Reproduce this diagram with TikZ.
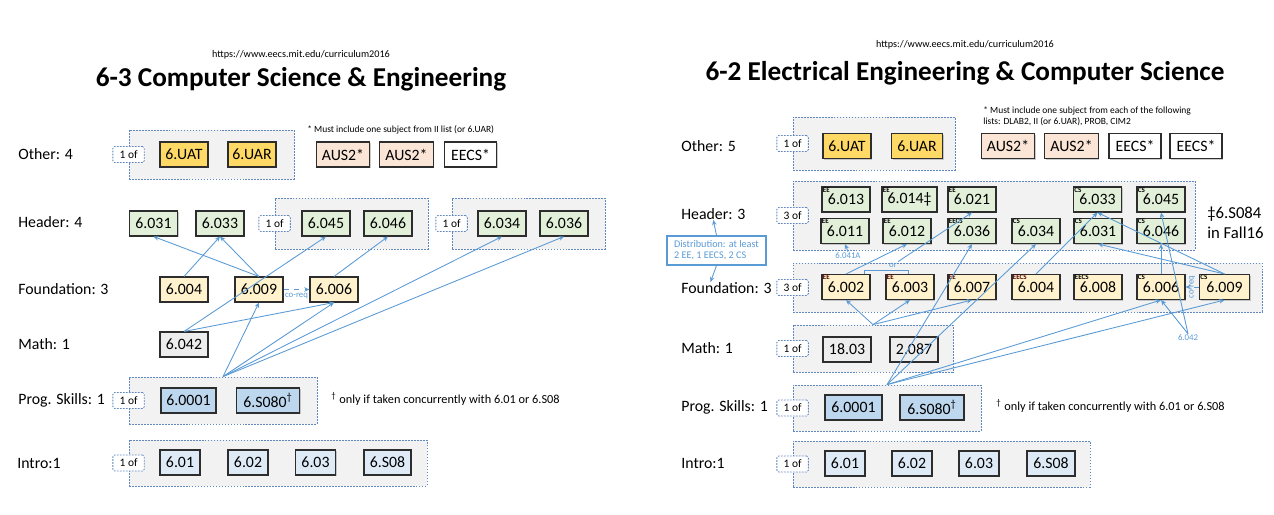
\documentclass[tikz,border=0pt]{standalone}
\usepackage{fontspec}
\setmainfont{Carlito}
\usetikzlibrary{arrows.meta,positioning,fit,calc,shadows}
\definecolor{grpline}{RGB}{96,136,190}
\definecolor{grpfill}{RGB}{242,242,242}
\definecolor{arrblue}{RGB}{91,155,213}
\definecolor{boxline}{RGB}{45,45,45}
\definecolor{uatgold}{RGB}{255,217,102}
\definecolor{auspink}{RGB}{251,229,214}
\definecolor{hdrgreen}{RGB}{226,240,217}
\definecolor{fndyellow}{RGB}{255,242,204}
\definecolor{mathgray}{RGB}{237,237,237}
\definecolor{progblue}{RGB}{189,215,238}
\definecolor{introblue}{RGB}{222,235,247}
\definecolor{tagred}{RGB}{80,0,0}

\begin{document}
\begin{tikzpicture}[
    x=0.02cm, y=-0.02cm,
    course/.style={
        rectangle,
        draw=boxline,
        line width=0.6pt,
        minimum height=0.5cm,
        minimum width=0.96cm,
        inner sep=1pt,
        font=\fontsize{9}{10}\selectfont,
        drop shadow={shadow xshift=0.7pt, shadow yshift=-0.7pt, fill=black!40, opacity=0.5}
    },
    uat/.style={course, fill=uatgold},
    aus/.style={course, fill=auspink, minimum width=1.07cm},
    eecs/.style={course, fill=white, minimum width=1.04cm},
    hdr/.style={course, fill=hdrgreen},
    fnd/.style={course, fill=fndyellow},
    mth/.style={course, fill=mathgray},
    prg/.style={course, fill=progblue},
    intro/.style={course, fill=introblue, minimum width=0.8cm},
    grp/.style={
        rectangle,
        draw=grpline,
        fill=grpfill,
        line width=0.45pt,
        dash pattern=on 1pt off 0.7pt,
        inner sep=0pt
    },
    oftag/.style={
        rectangle,
        rounded corners=1pt,
        draw=grpline,
        fill=white,
        line width=0.45pt,
        dash pattern=on 1pt off 0.7pt,
        minimum width=0.63cm,
        minimum height=0.32cm,
        inner sep=0.5pt,
        font=\fontsize{6.5}{7}\selectfont
    },
    rowlbl/.style={anchor=west, inner sep=0pt, font=\fontsize{9}{10}\selectfont},
    ttl/.style={font=\fontsize{15.5}{17}\selectfont\bfseries},
    url/.style={font=\fontsize{5.8}{6.5}\selectfont},
    cnote/.style={anchor=west, align=left, inner sep=0pt, font=\fontsize{5.4}{6.3}\selectfont},
    dnote/.style={anchor=west, inner sep=0pt, font=\fontsize{7}{8}\selectfont},
    lbl/.style={inner sep=0.5pt, text=arrblue, font=\fontsize{5}{5.5}\selectfont},
    ttag/.style={anchor=north west, inner sep=0.6pt, font=\fontsize{4}{4}\selectfont\bfseries},
    arr/.style={-{Stealth[length=3pt, width=2.6pt]}, line width=0.5pt, arrblue}
]
\useasboundingbox (0,0) rectangle (1274,514);

%%%%%%%%%%%% 6-3 %%%%%%%%%%%%
\node[url] (urlL) at (301,55) {https://www.eecs.mit.edu/curriculum2016};
\node[ttl] (titleL) at (301,79) {6-3 Computer Science \& Engineering};

% Row labels
\node[rowlbl] (lotherL) at (18,154) {Other: 4};
\node[rowlbl] (lhdrL) at (18,222) {Header: 4};
\node[rowlbl] (lfndL) at (18,289) {Foundation: 3};
\node[rowlbl] (lmthL) at (18,344) {Math: 1};
\node[rowlbl] (lprgL) at (18,400) {Prog. Skills: 1};
\node[rowlbl] (lintL) at (17,463) {Intro:1};

% Groups
\node[grp, fit={(129,130) (294,179)}] (ogL) {};
\node[grp, fit={(275,198) (428,249)}] (hgaL) {};
\node[grp, fit={(452,198) (605,249)}] (hgbL) {};
\node[grp, fit={(129,377) (317,424)}] (pgL) {};
\node[grp, fit={(129,440) (427,486)}] (igL) {};
\node[oftag] at (ogL.west) {1 of};
\node[oftag] at (hgaL.west) {1 of};
\node[oftag] at (hgbL.west) {1 of};
\node[oftag] at (pgL.west) {1 of};
\node[oftag] at (igL.west) {1 of};

% Other
\node[uat] (uatL) at (184,154.5) {6.UAT};
\node[uat] (uarL) at (252,154.5) {6.UAR};
\node[aus] (ausaL) at (343,154.5) {AUS2*};
\node[aus] (ausbL) at (406.5,154.5) {AUS2*};
\node[eecs] (eecsL) at (470.5,154.5) {EECS*};
\node[cnote] (noteL) at (307,130) {* Must include one subject from II list (or 6.UAR)};

% Header
\node[hdr] (h031L) at (153.5,223.5) {6.031};
\node[hdr] (h033L) at (220,223.5) {6.033};
\node[hdr] (h045L) at (326,223.5) {6.045};
\node[hdr] (h046L) at (388,223.5) {6.046};
\node[hdr] (h034L) at (502,223.5) {6.034};
\node[hdr] (h036L) at (564,223.5) {6.036};

% Foundation
\node[fnd] (f004L) at (184,289.5) {6.004};
\node[fnd] (f009L) at (259,289.5) {6.009};
\node[fnd] (f006L) at (334,289.5) {6.006};

% Math
\node[mth] (m042L) at (184,344.5) {6.042};

% Prog. skills
\node[prg, minimum width=1.1cm] (p0001L) at (188.5,400.5) {6.0001};
\node[prg, minimum width=1.26cm] (ps080L) at (268,400.5) {6.S080\textsuperscript{†}};
\node[dnote] (daggerL) at (331,399) {\textsuperscript{†} only if taken concurrently with 6.01 or 6.S08};

% Intro
\node[intro] (i01L) at (180,462.5) {6.01};
\node[intro] (i02L) at (248,462.5) {6.02};
\node[intro] (i03L) at (315.5,462.5) {6.03};
\node[intro, minimum width=0.94cm] (is08L) at (387.5,462.5) {6.S08};

% Prerequisites
\draw[arr] (f004L.north) -- (h033L.south);
\draw[arr] (f009L.north) -- (h031L.south);
\draw[arr] (f009L.north) -- (h033L.south);
\draw[arr] (f006L.north) -- (h046L.south);
\draw[arr] (m042L.north) -- (h045L.south);
\draw[arr] (m042L.north) -- (f006L.south);
\draw[arr] (pgL.north) -- (f009L.south);
\draw[arr] (pgL.north) -- (f006L.south);
\draw[arr] (pgL.north) -- (h034L.south);
\draw[arr] (pgL.north) -- (h036L.south);
\draw[arr, dashed] (f009L.east) -- (f006L.west)
    node[midway, below=1.5pt, lbl] {co-req};

%%%%%%%%%%%% 6-2 %%%%%%%%%%%%
\node[url] (urlR) at (965,45) {https://www.eecs.mit.edu/curriculum2016};
\node[ttl] (titleR) at (965,73) {6-2 Electrical Engineering \& Computer Science};

% Row labels
\node[rowlbl] (lotherR) at (681,146) {Other: 5};
\node[rowlbl] (lhdrR) at (681,214) {Header: 3};
\node[rowlbl] (lfndR) at (681,288) {Foundation: 3};
\node[rowlbl] (lmthR) at (681,348) {Math: 1};
\node[rowlbl] (lprgR) at (681,407) {Prog. Skills: 1};
\node[rowlbl] (lintR) at (681,463) {Intro:1};

% Groups
\node[grp, fit={(793,117) (955,170)}] (ogR) {};
\node[grp, fit={(793,181) (1195,250)}] (hgR) {};
\node[grp, fit={(793,263) (1262,312)}] (fgR) {};
\node[grp, fit={(793,325) (953,372)}] (mgR) {};
\node[grp, fit={(793,385) (981,431)}] (pgR) {};
\node[grp, fit={(793,441) (1090,487)}] (igR) {};
\node[oftag] at (ogR.west) {1 of};
\node[oftag] at (hgR.west) {3 of};
\node[oftag] at (fgR.west) {3 of};
\node[oftag] at (mgR.west) {1 of};
\node[oftag] at (pgR.west) {1 of};
\node[oftag] at (igR.west) {1 of};

% Other
\node[uat] (uatR) at (847,146) {6.UAT};
\node[uat, minimum width=1.02cm] (uarR) at (917,146) {6.UAR};
\node[aus] (ausaR) at (1008,146) {AUS2*};
\node[aus] (ausbR) at (1071.5,146) {AUS2*};
\node[eecs] (eecsaR) at (1135,146) {EECS*};
\node[eecs] (eecsbR) at (1196,146) {EECS*};
\node[cnote] (noteR) at (983,116.5) {* Must include one subject from each of the following\\lists: DLAB2, II (or 6.UAR), PROB, CIM2};

% Header
\node[hdr] (h013R) at (846,199.5) {6.013};
\node[hdr, minimum width=1.1cm] (h014R) at (909.5,199.5) {6.014‡};
\node[hdr] (h021R) at (972,199.5) {6.021};
\node[hdr] (h033R) at (1097.5,199.5) {6.033};
\node[hdr] (h045R) at (1161,199.5) {6.045};
\node[hdr] (h011R) at (845,231) {6.011};
\node[hdr] (h012R) at (907,231) {6.012};
\node[hdr] (h036R) at (972,231) {6.036};
\node[hdr] (h034R) at (1036,231) {6.034};
\node[hdr] (h031R) at (1098,231) {6.031};
\node[hdr] (h046R) at (1161,231) {6.046};
\node[ttag] at (h013R.north west) {EE};
\node[ttag] at (h014R.north west) {EE};
\node[ttag] at (h021R.north west) {EE};
\node[ttag] at (h033R.north west) {CS};
\node[ttag] at (h045R.north west) {CS};
\node[ttag] at (h011R.north west) {EE};
\node[ttag] at (h012R.north west) {EE};
\node[ttag] at (h036R.north west) {EECS};
\node[ttag] at (h034R.north west) {CS};
\node[ttag] at (h031R.north west) {CS};
\node[ttag] at (h046R.north west) {CS};
\node[anchor=west, align=left, inner sep=0pt, font=\fontsize{9.5}{11.4}\selectfont] (fallR) at (1207,223) {‡6.S084\\in Fall16};

% Foundation
\node[fnd] (f002R) at (846,287) {6.002};
\node[fnd] (f003R) at (910,287) {6.003};
\node[fnd] (f007R) at (972,287) {6.007};
\node[fnd] (f004R) at (1036,287) {6.004};
\node[fnd] (f008R) at (1098,287) {6.008};
\node[fnd] (f006R) at (1161,287) {6.006};
\node[fnd, minimum width=1.0cm] (f009R) at (1224.5,287) {6.009};
\node[ttag, text=tagred] at (f002R.north west) {EE};
\node[ttag, text=tagred] at (f003R.north west) {EE};
\node[ttag, text=tagred] at (f007R.north west) {EE};
\node[ttag, text=tagred] at (f004R.north west) {EECS};
\node[ttag] at (f008R.north west) {EECS};
\node[ttag] at (f006R.north west) {CS};
\node[ttag] at (f009R.north west) {CS};

% Math
\node[mth] (m1803R) at (847,349.5) {18.03};
\node[mth] (m2087R) at (914,349.5) {2.087};

% Prog. skills
\node[prg, minimum width=1.14cm] (p0001R) at (853.5,407.5) {6.0001};
\node[prg, minimum width=1.28cm] (ps080R) at (932,407.5) {6.S080\textsuperscript{†}};
\node[dnote] (daggerR) at (996,406) {\textsuperscript{†} only if taken concurrently with 6.01 or 6.S08};

% Intro
\node[intro] (i01R) at (845,463.5) {6.01};
\node[intro] (i02R) at (912,463.5) {6.02};
\node[intro] (i03R) at (979,463.5) {6.03};
\node[intro, minimum width=0.96cm] (is08R) at (1051,463.5) {6.S08};

% Distribution
\node[draw=arrblue, line width=0.6pt, fill=white, text=arrblue, align=left,
      minimum width=1.98cm, minimum height=0.58cm, inner sep=1.5pt,
      font=\fontsize{5.8}{6.3}\selectfont] (distR) at (716.5,250.5)
      {Distribution: at least\\2 EE, 1 EECS, 2 CS};
\draw[arr] (distR.north) -- (lhdrR.south);
\draw[arr] (distR.south) -- ([xshift=-0.32cm]lfndR.north);

% small labels
\node[lbl] (a041R) at (848,256) {6.041A};
\node[lbl] (orR) at (893,265) {or};
\node[lbl] (a042R) at (1188,338) {6.042};
\coordinate (orlo) at (864,274);
\coordinate (orhi) at (908,274);
\draw[arrblue, line width=0.5pt] (orlo) -- ++(0,-4) -| (orhi);

% Prerequisites
\draw[arr] (a041R.north) -- (h011R.south);
\draw[arr] (f002R.north) -- (h012R.south);
\draw[arr] (orR.north east) -- (h021R.south);
\draw[arr] (mgR.north) -- (f002R.south);
\draw[arr] (mgR.north) -- (f003R.south);
\draw[arr] (mgR.north) -- (f007R.south);
\draw[arr] (pgR.north) -- (h036R.south);
\draw[arr] (pgR.north) -- (h034R.south);
\draw[arr] (pgR.north) -- (f006R.south);
\draw[arr] (pgR.north) -- (f009R.south);
\draw[arr] (f004R.north) -- (h033R.south);
\draw[arr] (f006R.north) -- (h046R.south);
\draw[arr] (f009R.north) -- (h033R.south);
\draw[arr] (f009R.north) -- (h031R.south);
\draw[arr] (a042R.north) -- (f006R.south);
\draw[arr] (a042R.north) -- (h045R.south);
\draw[arr, dashed] (f009R.west) -- (f006R.east)
    node[midway, lbl, rotate=90] {co-req};

\end{tikzpicture}
\end{document}
